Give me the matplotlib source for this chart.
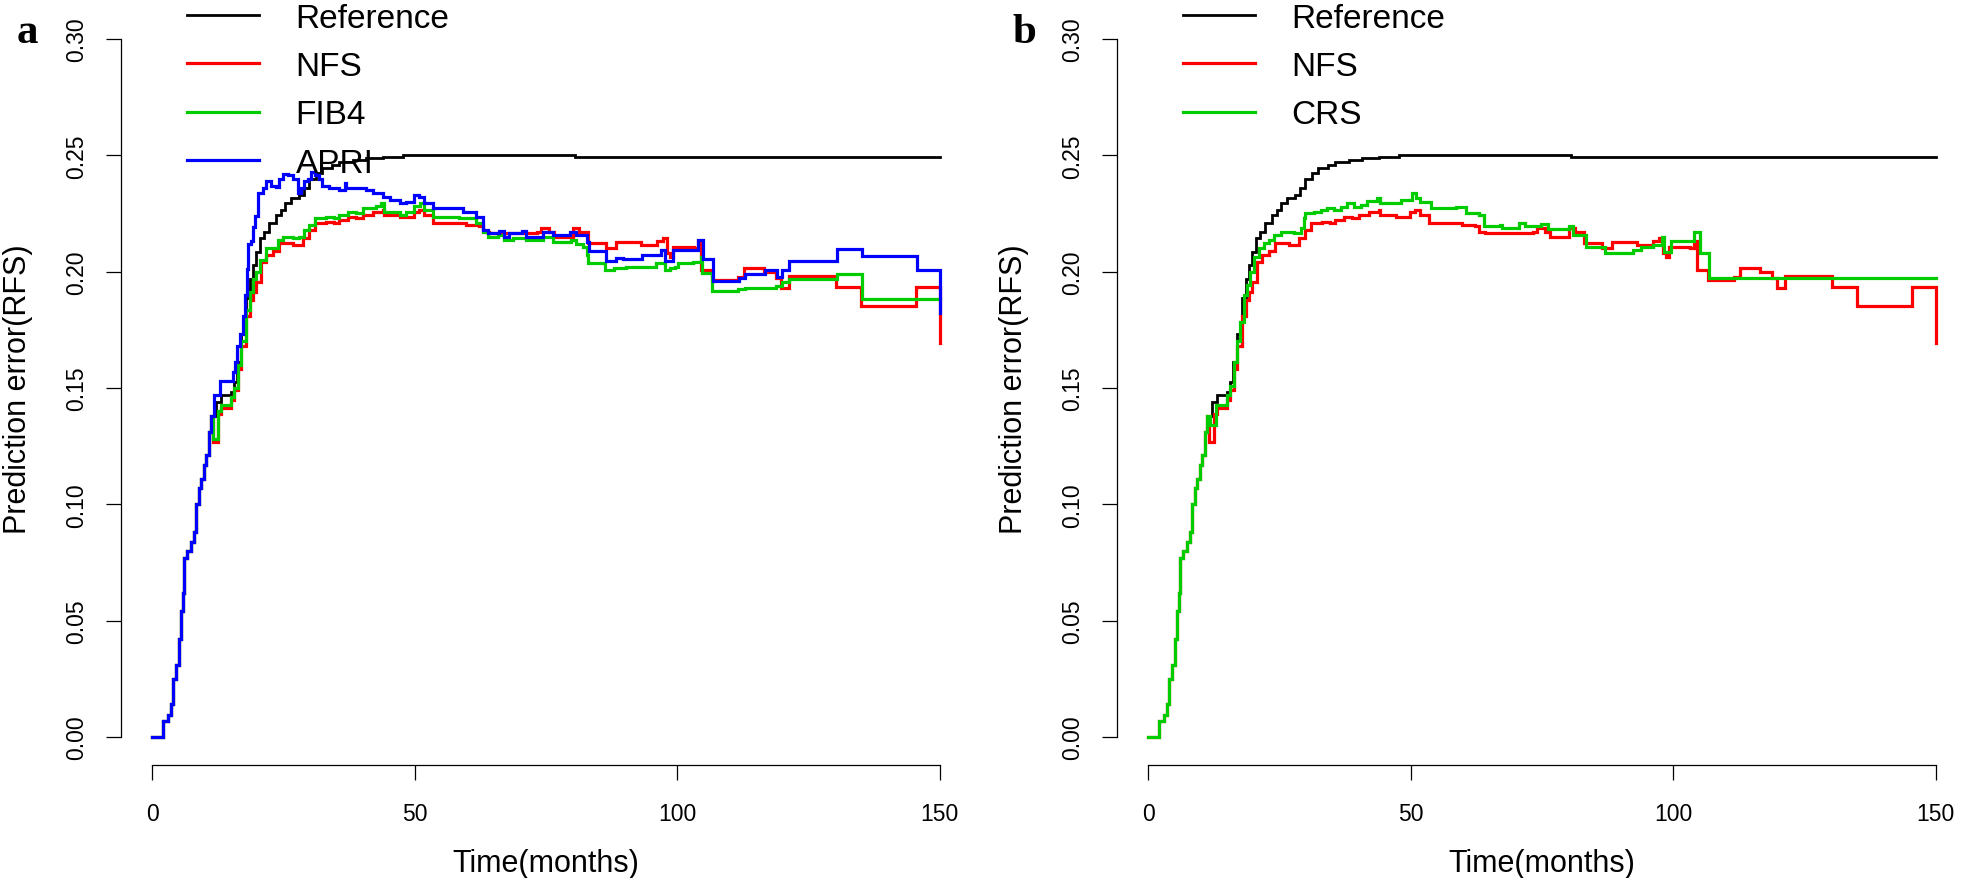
import matplotlib
matplotlib.use("Agg")
import matplotlib.pyplot as plt
import numpy as np

plt.rcParams['font.family'] = ['Liberation Sans', 'DejaVu Sans']

# shared start of every curve (months, prediction error)
t_start = [0, 2.0, 3.0, 3.6, 4.0, 4.5, 5.0, 5.4, 5.8, 6.0, 6.5, 7.3, 8.0, 8.3,
           8.8, 9.3, 9.8, 10.2, 10.8, 11.2]
e_start = [0, 0.0068, 0.0094, 0.0144, 0.025, 0.031, 0.042, 0.054, 0.062, 0.077,
           0.080, 0.084, 0.088, 0.100, 0.107, 0.111, 0.117, 0.121, 0.131, 0.138]

# Reference
t_ref = [12.1, 13.1, 15.0, 15.6, 16.2, 16.9, 17.8, 18.5, 19.1, 19.7, 20.4, 21.3,
         22.3, 23.6, 24.5, 25.2, 26.4, 28.0, 28.9, 29.9, 31.2, 32.4, 34.3, 35.6,
         38.2, 40.7, 44.0, 47.7, 80.5, 150.0]
e_ref = [0.144, 0.147, 0.1484, 0.1527, 0.161, 0.173, 0.1885, 0.197, 0.2028,
         0.2086, 0.2143, 0.2172, 0.2208, 0.2243, 0.2265, 0.2294, 0.2315, 0.2329,
         0.2358, 0.240, 0.2423, 0.2444, 0.2458, 0.2473, 0.248, 0.2487, 0.2494,
         0.2501, 0.2493, 0.2493]

# NFS
t_nfs = [11.5, 12.4, 13.1, 15.0, 15.6, 16.3, 16.9, 17.8, 18.5, 19.1, 19.7, 20.7,
         21.7, 22.9, 24.2, 26.7, 28.6, 29.9, 30.9, 33.1, 34.5, 35.6, 37.3, 38.8,
         40.1, 42.0, 43.9, 44.2, 47.1, 49.9, 50.8, 51.8, 53.4, 59.8, 62.3, 62.9,
         64.2, 73.3, 74.1, 75.5, 76.6, 80.1, 81.3, 83.0, 86.4, 88.4, 93.1, 96.1,
         97.3, 98.1, 98.7, 99.2, 103.3, 103.9, 104.6, 106.6, 111.6, 112.8, 116.6,
         118.9, 119.8, 121.3, 130.3, 135.1, 145.5, 150.0]
e_nfs = [0.127, 0.139, 0.1415, 0.145, 0.149, 0.158, 0.168, 0.181, 0.188, 0.1914,
         0.1957, 0.2043, 0.2071, 0.209, 0.2122, 0.2115, 0.2143, 0.218, 0.2208,
         0.2215, 0.2208, 0.2222, 0.2236, 0.2229, 0.2243, 0.2258, 0.2265, 0.2243,
         0.2236, 0.2258, 0.2265, 0.2243, 0.2208, 0.2200, 0.2194, 0.2172, 0.2165,
         0.2172, 0.2186, 0.2172, 0.2150, 0.2186, 0.2172, 0.2122, 0.2100, 0.2129,
         0.2115, 0.2132, 0.2146, 0.2079, 0.2065, 0.2108, 0.2100, 0.2132, 0.2008,
         0.1964, 0.1978, 0.2014, 0.1997, 0.1971, 0.1931, 0.1983, 0.1935, 0.1854,
         0.1935, 0.1692]

# FIB4
t_fib4 = [11.5, 12.4, 13.1, 15.0, 15.6, 16.3, 16.9, 17.8, 18.5, 19.1, 19.7, 20.4,
          21.7, 23.9, 24.8, 26.7, 28.0, 28.9, 29.9, 30.9, 33.1, 34.5, 35.6, 37.3,
          38.8, 40.1, 42.6, 43.6, 44.2, 47.1, 48.4, 49.9, 50.9, 51.8, 53.4, 58.5,
          61.7, 62.9, 63.9, 65.8, 67.0, 68.8, 71.1, 74.4, 76.4, 79.8, 80.7, 82.0,
          82.8, 83.0, 86.3, 88.0, 90.3, 96.0, 97.7, 98.6, 99.5, 100.1, 103.0,
          104.6, 104.7, 106.6, 111.6, 113.0, 118.9, 119.9, 121.3, 130.5, 135.3,
          150.0]
e_fib4 = [0.128, 0.140, 0.1427, 0.1463, 0.150, 0.160, 0.170, 0.1836, 0.1914,
          0.197, 0.200, 0.205, 0.210, 0.2136, 0.215, 0.2143, 0.215, 0.218, 0.220,
          0.2229, 0.2236, 0.2229, 0.2243, 0.2258, 0.2250, 0.2272, 0.228, 0.2294,
          0.2258, 0.2243, 0.2258, 0.228, 0.2294, 0.2265, 0.2236, 0.2229, 0.2208,
          0.2172, 0.2150, 0.2158, 0.2136, 0.2146, 0.2136, 0.2150, 0.2129, 0.2136,
          0.2117, 0.2107, 0.2072, 0.2036, 0.2007, 0.2014, 0.2022, 0.2036, 0.2007,
          0.2014, 0.2022, 0.2036, 0.2043, 0.2065, 0.1993, 0.1917, 0.1925, 0.1931,
          0.1940, 0.1957, 0.1968, 0.1988, 0.1881, 0.1881]

# APRI
t_apri = [11.8, 12.8, 15.3, 15.8, 16.1, 16.6, 17.2, 17.7, 18.1, 18.2, 18.8, 19.1,
          19.6, 20.1, 21.0, 21.7, 22.6, 23.6, 24.2, 24.8, 25.8, 26.7, 27.7, 28.3,
          28.9, 29.6, 30.2, 31.0, 31.8, 32.4, 33.7, 35.6, 36.6, 36.9, 40.7, 42.0,
          43.9, 45.2, 47.1, 48.4, 49.9, 50.8, 51.8, 53.4, 59.1, 61.7, 62.9, 63.9,
          66.1, 67.0, 68.0, 70.5, 71.1, 74.4, 76.4, 79.5, 80.7, 82.8, 83.2, 86.4,
          88.4, 89.6, 93.3, 96.9, 97.7, 99.2, 103.9, 104.9, 106.8, 111.8, 113.0,
          116.7, 119.0, 119.9, 121.3, 130.5, 135.3, 145.7, 150.0]
e_apri = [0.147, 0.153, 0.157, 0.161, 0.168, 0.173, 0.181, 0.190, 0.201, 0.212,
          0.213, 0.219, 0.224, 0.234, 0.236, 0.239, 0.237, 0.2365, 0.240, 0.242,
          0.2415, 0.240, 0.234, 0.236, 0.239, 0.240, 0.243, 0.2415, 0.240, 0.237,
          0.236, 0.235, 0.238, 0.236, 0.235, 0.2337, 0.232, 0.2307, 0.2294, 0.230,
          0.233, 0.232, 0.2294, 0.2272, 0.2258, 0.2236, 0.218, 0.2165, 0.2175,
          0.2150, 0.2165, 0.2175, 0.2150, 0.2172, 0.2158, 0.2172, 0.2158, 0.2129,
          0.2089, 0.2046, 0.2057, 0.2053, 0.2072, 0.2091, 0.2044, 0.2093, 0.2136,
          0.2053, 0.1960, 0.1974, 0.1988, 0.2007, 0.1978, 0.2007, 0.2046, 0.2097,
          0.2069, 0.2007, 0.1821]

# CRS (panel b)
t_crs = [11.8, 12.8, 15.0, 15.6, 16.3, 16.9, 17.5, 18.2, 18.8, 19.4, 20.1, 21.0,
         22.0, 22.9, 23.9, 25.2, 27.7, 29.0, 29.6, 29.9, 31.5, 32.8, 34.1, 35.3,
         36.6, 37.9, 39.2, 40.5, 41.7, 43.6, 44.2, 48.1, 50.3, 50.9, 51.8, 53.8,
         58.6, 60.6, 63.0, 64.0, 67.0, 67.4, 70.7, 71.8, 74.8, 76.2, 80.2, 80.9,
         83.3, 87.0, 92.4, 93.8, 96.1, 97.8, 98.2, 99.5, 103.9, 105.1, 106.8,
         150.0]
e_crs = [0.134, 0.1427, 0.147, 0.151, 0.1613, 0.170, 0.1785, 0.190, 0.1942,
         0.200, 0.2065, 0.210, 0.2122, 0.2136, 0.2157, 0.2172, 0.2165, 0.2186,
         0.2229, 0.2251, 0.2258, 0.2265, 0.2272, 0.2265, 0.2279, 0.2294, 0.2279,
         0.2287, 0.2304, 0.2315, 0.2294, 0.2308, 0.2337, 0.2315, 0.2301, 0.2272,
         0.2279, 0.2251, 0.2244, 0.2194, 0.2201, 0.2186, 0.2208, 0.2194, 0.2204,
         0.2184, 0.2194, 0.2158, 0.2108, 0.2079, 0.2094, 0.2108, 0.2115, 0.2147,
         0.2086, 0.2132, 0.2172, 0.2079, 0.1971, 0.1971]

y_ticks = [0.00, 0.05, 0.10, 0.15, 0.20, 0.25, 0.30]
x_ticks = [0, 50, 100, 150]

W, H = 1961, 879
fig = plt.figure(figsize=(W / 100, H / 100), dpi=100)
ax_a = fig.add_axes([121 / W, 113 / H, 850 / W, 754 / H])
ax_b = fig.add_axes([1117 / W, 113 / H, 850 / W, 754 / H])


def curve(ax, t, e, color, label, lw=2.3):
    ax.step(t_start + t, e_start + e, where='post', color=color, lw=lw,
            label=label, solid_joinstyle='miter')


def style_axis(ax):
    ax.set_xlim(-6, 156)
    ax.set_ylim(-0.012, 0.312)
    ax.spines['top'].set_visible(False)
    ax.spines['right'].set_visible(False)
    ax.spines['left'].set_bounds(0, 0.3)
    ax.spines['bottom'].set_bounds(0, 150)
    for s in ['left', 'bottom']:
        ax.spines[s].set_linewidth(0.9)
    ax.set_xticks(x_ticks)
    ax.set_xticklabels([str(v) for v in x_ticks])
    ax.set_yticks(y_ticks)
    ax.set_yticklabels(['%.2f' % v for v in y_ticks], rotation=90, va='center')
    ax.tick_params(length=10.8, width=0.9, labelsize=16.5)
    ax.tick_params(axis='x', pad=16)
    ax.tick_params(axis='y', pad=13)
    ax.set_xlabel('Time(months)', fontsize=22)
    ax.xaxis.set_label_coords(0.5, -0.11)
    ax.set_ylabel('Prediction error(RFS)', fontsize=22)
    ax.yaxis.set_label_coords(-0.104, 0.5)
    ax.legend(loc='upper left', bbox_to_anchor=(0.078, 1.011), frameon=False,
              fontsize=24, handlelength=2.15, handletextpad=1.1,
              labelspacing=0.52, borderpad=0, borderaxespad=0)


curve(ax_a, t_ref, e_ref, 'black', 'Reference', lw=2.0)
curve(ax_a, t_nfs, e_nfs, '#FF0000', 'NFS')
curve(ax_a, t_fib4, e_fib4, '#00CC00', 'FIB4')
curve(ax_a, t_apri, e_apri, '#0000FF', 'APRI')
style_axis(ax_a)

curve(ax_b, t_ref, e_ref, 'black', 'Reference', lw=2.0)
curve(ax_b, t_nfs, e_nfs, '#FF0000', 'NFS')
curve(ax_b, t_crs, e_crs, '#00CC00', 'CRS')
style_axis(ax_b)

fig.text(27 / W, 1 - 43 / H, 'a', fontsize=31, fontweight='bold',
         family=['Liberation Serif', 'DejaVu Serif'], ha='center', va='baseline')
fig.text(1024 / W, 1 - 43 / H, 'b', fontsize=31, fontweight='bold',
         family=['Liberation Serif', 'DejaVu Serif'], ha='center', va='baseline')

fig.savefig('out.png', dpi=100)
